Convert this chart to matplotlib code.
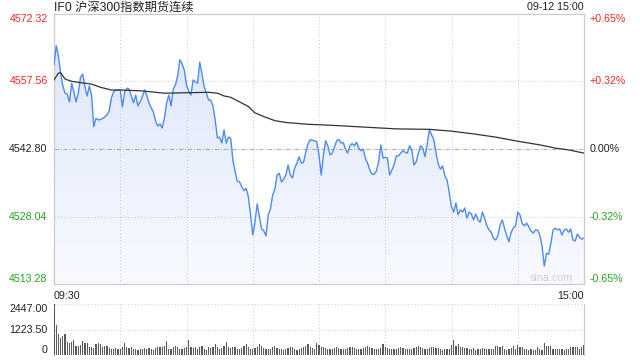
import numpy as np
import matplotlib
matplotlib.use('Agg')
import matplotlib.pyplot as plt
from matplotlib.colors import LinearSegmentedColormap

plt.rcParams['font.family'] = ['Liberation Sans', 'Noto Sans CJK SC', 'DejaVu Sans']

title = 'IF0 沪深300指数期货连续'
stamp = '09-12 15:00'
prev_close = 4542.80
price_ticks = [4572.32, 4557.56, 4542.80, 4528.04, 4513.28]
pct_labels = ['+0.65%', '+0.32%', '0.00%', '-0.32%', '-0.65%']
vol_ticks = [2447.00, 1223.50, 0]
time_labels = ['09:30', '15:00']

# one value per minute, 09:30-11:30 + 13:00-15:00
price = [
    4561.2, 4565.4, 4563.1, 4559.4, 4556.6, 4555.0, 4554.8, 4553.1, 4557.2, 4555.3,
    4553.1, 4555.0, 4558.5, 4559.2, 4556.4, 4554.4, 4556.6, 4554.6, 4547.7, 4549.5,
    4549.2, 4549.2, 4549.5, 4549.8, 4550.3, 4551.1, 4554.0, 4555.3, 4555.7, 4555.7,
    4555.7, 4552.0, 4555.3, 4556.1, 4555.9, 4554.4, 4552.9, 4554.6, 4552.2, 4553.1,
    4554.2, 4555.7, 4554.6, 4552.9, 4551.8, 4550.9, 4548.9, 4547.8, 4548.3, 4547.4,
    4549.6, 4552.9, 4554.6, 4552.2, 4555.9, 4556.8, 4558.8, 4562.3, 4561.4, 4560.1,
    4556.8, 4555.5, 4554.6, 4557.9, 4557.5, 4557.2, 4561.8, 4559.2, 4556.4, 4555.0,
    4553.5, 4553.5, 4552.2, 4549.1, 4545.2, 4545.4, 4544.1, 4547.0, 4544.1, 4545.4,
    4545.2, 4540.4, 4537.9, 4535.7, 4535.6, 4534.6, 4533.7, 4534.2, 4532.4, 4528.4,
    4524.0, 4526.8, 4530.8, 4528.0, 4525.3, 4524.9, 4523.8, 4528.4, 4529.7, 4532.7,
    4534.0, 4537.1, 4537.5, 4535.6, 4536.2, 4537.1, 4539.3, 4537.1, 4536.5, 4538.7,
    4539.7, 4541.1, 4539.7, 4539.9, 4542.1, 4543.9, 4544.8, 4544.7, 4544.6, 4544.4,
    4541.5, 4537.1, 4541.5, 4544.6, 4543.5, 4541.5, 4541.9, 4543.2, 4544.6, 4544.9,
    4544.1, 4544.2, 4542.8, 4541.9, 4543.5, 4544.0, 4543.5, 4544.3, 4543.0, 4542.4,
    4542.8, 4540.8, 4539.7, 4538.2, 4537.3, 4537.3, 4538.0, 4540.0, 4543.7, 4540.8,
    4541.0, 4540.8, 4537.1, 4538.2, 4539.3, 4541.3, 4541.3, 4541.9, 4542.4, 4542.1,
    4541.9, 4543.5, 4542.6, 4539.3, 4540.0, 4541.9, 4543.5, 4543.0, 4541.1, 4543.9,
    4547.0, 4545.9, 4544.8, 4541.9, 4539.5, 4538.4, 4539.1, 4536.9, 4536.0, 4533.2,
    4530.1, 4529.0, 4531.0, 4528.4, 4529.5, 4529.0, 4529.9, 4527.7, 4529.0, 4528.6,
    4527.3, 4528.6, 4527.3, 4526.8, 4529.0, 4527.7, 4526.0, 4525.1, 4524.6, 4523.3,
    4522.9, 4523.8, 4526.2, 4527.3, 4525.5, 4523.8, 4522.5, 4524.6, 4525.5, 4526.0,
    4529.0, 4528.4, 4526.5, 4526.0, 4526.6, 4525.8, 4524.9, 4524.4, 4525.1, 4525.1,
    4524.0, 4521.6, 4517.2, 4520.0, 4519.8, 4522.2, 4525.1, 4525.5, 4525.1, 4525.3,
    4524.0, 4525.1, 4525.3, 4524.6, 4525.3, 4522.9, 4522.7, 4524.2, 4523.5, 4523.1, 4523.3,
]

avg_minute = [0, 2, 3, 5, 8, 12, 17, 21, 26, 30, 40, 50, 60, 70, 74, 77, 80, 84, 88, 91,
              95, 100, 105, 115, 125, 140, 155, 170, 180, 190, 200, 210, 220, 227, 233, 240]
avg_price = [4557.9, 4559.4, 4559.5, 4558.1, 4557.6, 4557.3, 4557.0, 4556.3, 4555.7, 4555.7,
             4555.5, 4555.0, 4555.1, 4555.2, 4555.0, 4554.4, 4554.1, 4553.1, 4552.1, 4550.7,
             4549.9, 4549.0, 4548.6, 4548.2, 4548.0, 4547.6, 4547.2, 4547.1, 4546.7, 4546.1,
             4545.4, 4544.5, 4543.7, 4543.0, 4542.6, 4541.9]

volume = [
    2447, 1463, 1029, 821, 932, 1029, 657, 609, 642, 739,
    449, 449, 497, 690, 609, 580, 386, 386, 338, 546,
    580, 546, 415, 449, 449, 338, 319, 290, 338, 290,
    319, 386, 609, 386, 338, 386, 290, 290, 256, 290,
    290, 338, 290, 353, 290, 256, 338, 386, 386, 415,
    449, 690, 290, 319, 386, 449, 386, 319, 290, 353,
    386, 739, 386, 353, 386, 319, 386, 449, 290, 256, 386,
    330, 410, 520, 380, 300, 350, 450, 620, 400, 360,
    420, 380, 300, 280, 350, 460, 520, 380, 310, 290,
    340, 400, 560, 430, 350, 300, 280, 320, 380, 440,
    360, 300, 280, 260, 310, 350, 420, 380, 300, 270,
    290, 330, 380, 450, 520, 400, 350, 300, 600, 480,
    420, 380, 330, 300, 280, 310, 350, 390, 330, 300,
    280, 300, 340, 380, 420, 360, 310, 290, 300, 350,
    400, 450, 380, 330, 300, 280, 310, 370, 520, 410,
    360, 320, 300, 290, 310, 340, 380, 360, 320, 300,
    290, 310, 350, 400, 430, 380, 340, 310, 300, 330,
    380, 420, 360, 330, 300,
    256, 290, 319, 290, 497, 739, 449, 546, 386, 386,
    370, 338, 290, 290, 338, 256, 290, 290, 353, 290,
    304, 319, 290, 319, 449, 449, 386, 449, 319, 256,
    290, 338, 449, 290, 497, 386, 386, 319, 290, 232,
    290, 232, 232, 386, 319, 232, 580, 449, 449, 449,
    290, 319, 290, 290, 319, 256, 319, 290, 386, 386,
    386, 386, 290, 386, 497,
]

RED = '#ee2a24'
GREEN = '#22a722'
DARK = '#222222'
GRID = '#d2d2d2'
label_colors = [RED, RED, DARK, GREEN, GREEN]
FS = 7.7

x = np.arange(len(price))
xv = np.arange(len(volume))
ymin, ymax = price_ticks[-1], price_ticks[0]

fig = plt.figure(figsize=(6.4, 3.6), dpi=100)
ax = fig.add_axes([54 / 640, 76 / 360, 530 / 640, 270 / 360])
axv = fig.add_axes([54 / 640, 4.7 / 360, 530 / 640, 51 / 360])

# gradient fill under the price line
fill = ax.fill_between(x, price, ymin, color='none', lw=0)
cmap = LinearSegmentedColormap.from_list('g', ['#f8faff', '#dae5fa'])
grad = np.linspace(0, 1, 256).reshape(-1, 1)
im = ax.imshow(grad, extent=[0, 240, ymin, ymax], aspect='auto', cmap=cmap,
               origin='lower', zorder=1)
im.set_clip_path(fill.get_paths()[0], transform=ax.transData)

ax.plot(x, price, color='#4d8bf2', lw=1.0, zorder=3)
ax.plot(avg_minute, avg_price, color='#333333', lw=0.9, zorder=3)

ax.set_xlim(0, 240)
ax.set_ylim(ymin, ymax)
ax.set_xticks([])
ax.set_yticks([])
for m in range(30, 240, 30):
    ax.axvline(m, color=GRID, lw=0.8, ls=(0, (1, 2)), zorder=2)
for p in price_ticks[1:-1]:
    if p == prev_close:
        ax.axhline(p, color='#b0b0b0', lw=0.8, ls=(0, (4, 1.5, 1, 1.5)), zorder=2)
    else:
        ax.axhline(p, color=GRID, lw=0.8, ls=(0, (1, 2)), zorder=2)
for s in ax.spines.values():
    s.set_color('#cccccc')
    s.set_linewidth(0.9)

for p, lab, c in zip(price_ticks, pct_labels, label_colors):
    va = 'top' if p == ymax else ('bottom' if p == ymin else 'center')
    ax.text(-0.012, p, f'{p:.2f}', transform=ax.get_yaxis_transform(),
            ha='right', va=va, fontsize=FS, color=c)
    ax.text(1.011, p, lab, transform=ax.get_yaxis_transform(),
            ha='left', va=va, fontsize=FS, color=c)

ax.text(0.0, -0.025, time_labels[0], transform=ax.transAxes, ha='left', va='top',
        fontsize=FS, color=DARK)
ax.text(1.0, -0.025, time_labels[1], transform=ax.transAxes, ha='right', va='top',
        fontsize=FS, color=DARK)
ax.text(0.979, 0.005, 'sina.com', transform=ax.transAxes, ha='right', va='bottom',
        fontsize=FS, color='#cfcfcf')

fig.text(54 / 640, 1 - 7.5 / 360, title, ha='left', va='center', fontsize=8.8, color=DARK)
fig.text(584 / 640, 1 - 7.5 / 360, stamp, ha='right', va='center', fontsize=FS, color=DARK)

# volume panel
axv.bar(xv, volume, width=0.55, color='#5a5a5a', zorder=3)
axv.set_xlim(0, 240)
axv.set_ylim(0, vol_ticks[0])
axv.set_xticks([])
axv.set_yticks([])
for m in range(30, 240, 30):
    axv.axvline(m, color=GRID, lw=0.8, ls=(0, (1, 2)), zorder=1)
for v in vol_ticks[:2]:
    axv.axhline(v, color=GRID, lw=0.8, ls=(0, (1, 2)), zorder=1)
axv.spines['top'].set_visible(False)
axv.spines['bottom'].set_visible(False)
for s in ('left', 'right'):
    axv.spines[s].set_color('#cccccc')
    axv.spines[s].set_linewidth(0.9)
for v in vol_ticks:
    va = 'top' if v == vol_ticks[0] else ('bottom' if v == 0 else 'center')
    lab = '0' if v == 0 else f'{v:.2f}'
    axv.text(-0.012, v, lab, transform=axv.get_yaxis_transform(),
             ha='right', va=va, fontsize=FS, color=DARK)

fig.savefig('out.png', dpi=100, facecolor='white')
